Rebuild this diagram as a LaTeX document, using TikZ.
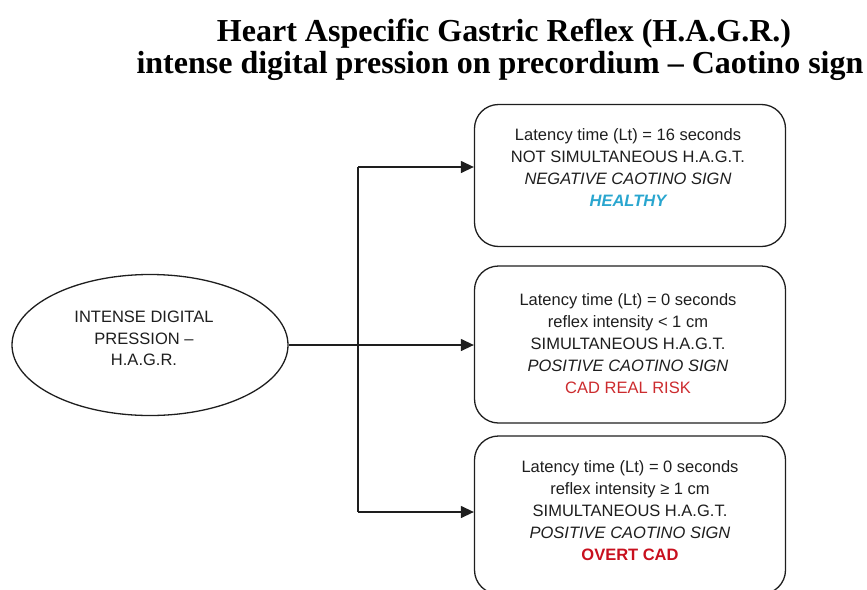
\documentclass[tikz,border=0pt]{standalone}
\usepackage{fontspec}
\setmainfont{Liberation Serif}
\setsansfont{Liberation Sans}
\usetikzlibrary{arrows.meta,shapes.geometric}

\definecolor{ink}{HTML}{1E1E1E}
\definecolor{healthy}{HTML}{2AA6CF}
\definecolor{risk}{HTML}{CC2B2E}
\definecolor{overt}{HTML}{C8101E}

\begin{document}
\begin{tikzpicture}[x=1pt,y=-1pt,
  outline/.style={draw=ink, line width=1.3pt},
  resultbox/.style={outline, rectangle, rounded corners=24pt, minimum width=311pt, inner sep=0pt},
  boxtext/.style={align=center, inner sep=0pt, text=ink,
    font=\sffamily\fontsize{16.5}{22}\selectfont},
  heading/.style={anchor=base, inner sep=0pt, text=black,
    font=\bfseries\fontsize{32}{32}\selectfont},
  link/.style={draw=ink, line width=1.3pt},
  arrowlink/.style={link, -{Triangle[length=13pt,width=12pt]}}]

\useasboundingbox (0,0) rectangle (867,589);
\clip (0,0) rectangle (867,589);

% title
\node[heading] (title1) at (504,41) {Heart Aspecific Gastric Reflex (H.A.G.R.)};
\node[heading] (title2) at (500,73) {intense digital pression on precordium – Caotino sign};

% starting stimulus
\node[outline, ellipse, minimum width=276pt, minimum height=141pt, inner sep=0pt] (ell) at (150,345) {};
\node[boxtext, font=\sffamily\fontsize{16.5}{21.5}\selectfont] (elltext) at (144,338.5)
  {INTENSE DIGITAL\\PRESSION –\\H.A.G.R.};

% outcome boxes
\node[resultbox, minimum height=142pt] (b1) at (630,175.5) {};
\node[resultbox, minimum height=157pt] (b2) at (630,344.5) {};
\node[resultbox, minimum height=158pt] (b3) at (630,515) {};

\node[boxtext] (t1) at (628,168)
  {Latency time (Lt) = 16 seconds\\
   NOT SIMULTANEOUS H.A.G.T.\\
   \itshape NEGATIVE CAOTINO SIGN\\
   \color{healthy}\bfseries\itshape HEALTHY};
\node[boxtext] (t2) at (628,344)
  {Latency time (Lt) = 0 seconds\\
   reflex intensity < 1 cm\\
   SIMULTANEOUS H.A.G.T.\\
   \itshape POSITIVE CAOTINO SIGN\\
   \color{risk}CAD REAL RISK};
\node[boxtext] (t3) at (630,511)
  {Latency time (Lt) = 0 seconds\\
   reflex intensity ≥ 1 cm\\
   SIMULTANEOUS H.A.G.T.\\
   \itshape POSITIVE CAOTINO SIGN\\
   \color{overt}\bfseries OVERT CAD};

% branching connectors
\coordinate (jt) at (358,167);
\coordinate (jb) at (358,512);
\draw[link] (jt) -- (jb);
\draw[arrowlink] (jt) -- (jt -| b1.west);
\draw[arrowlink] (jb) -- (jb -| b3.west);
\draw[arrowlink] (ell.east) -- (ell.east -| b2.west);
\end{tikzpicture}
\end{document}
